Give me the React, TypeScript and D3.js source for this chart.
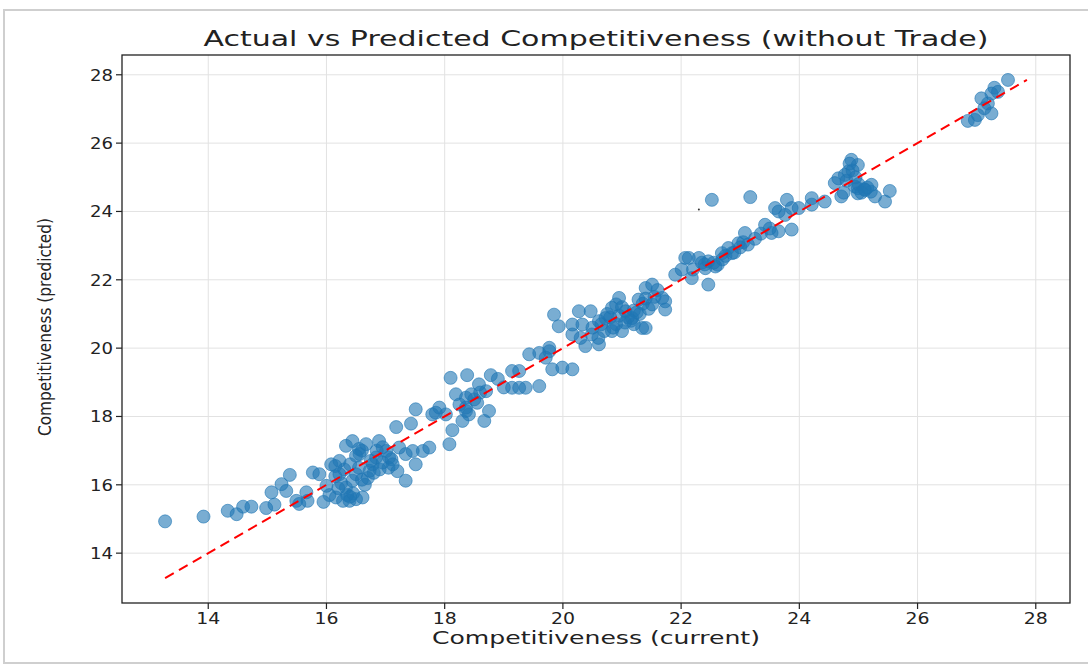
import React from 'react';
import * as d3 from 'd3';

const actual: number[] = [
  13.27, 13.92, 14.33, 14.48, 14.59, 14.73, 14.98, 15.12, 15.07, 15.24, 15.38, 15.32, 15.49, 15.66, 15.54,
  15.77, 15.88, 15.68, 16.0, 16.08, 16.22, 16.16, 16.28, 16.39, 16.5, 16.61, 16.33, 16.44, 16.5, 16.22,
  16.33, 16.44, 16.56, 16.67, 16.78, 16.73, 16.89, 16.84, 17.01, 17.12, 17.23, 17.34, 17.46, 17.63, 17.74,
  17.34, 17.18, 17.43, 18.08, 18.13, 17.51, 17.06, 19.85, 18.1, 18.38, 18.78, 19.14, 18.19, 18.58, 18.7,
  19.6, 19.77, 19.82, 19.14, 19.37, 19.6, 17.51, 17.91, 17.79, 18.02, 18.36, 18.41, 18.3, 18.67, 18.75,
  20.27, 20.47, 19.93, 20.16, 20.33, 20.61, 20.38, 20.16, 20.83, 21.0, 21.34, 20.95, 21.28, 20.83, 21.06,
  21.17, 21.51, 21.68, 21.73, 20.61, 20.72, 20.49, 22.52, 23.17, 23.79, 23.59, 23.76, 23.42, 23.53, 23.65,
  23.08, 22.97, 22.8, 22.69, 22.46, 22.3, 22.13, 22.01, 21.9, 22.46, 22.58, 22.86, 23.99, 24.21, 24.43,
  24.71, 24.99, 25.21, 25.45, 25.53, 21.4, 21.51, 24.88, 24.99, 24.83, 24.66, 24.6, 24.77, 24.94, 25.11,
  25.22, 25.28, 24.99, 24.21, 23.87, 23.65, 27.53, 27.3, 27.25, 27.08, 27.19, 27.13, 27.25, 27.02, 26.85,
  26.97, 27.36, 19.26, 18.36, 17.85, 18.36, 19.77, 19.99, 20.16, 19.71, 19.43, 21.73, 21.4, 20.9, 22.07,
  22.18, 22.41, 22.62, 23.13, 23.87, 19.26,
  16.55, 16.9, 16.95, 16.6, 16.7, 16.4, 17.05, 16.85, 16.25, 16.15, 17.2, 16.65, 16.45, 16.35, 16.2,
  16.05, 15.95, 20.5, 20.7, 20.9, 21.1, 21.2, 21.3, 21.45, 21.55, 21.6, 20.8, 21.0, 20.6, 20.3, 21.2,
  21.35, 22.55, 22.7, 22.9, 23.0, 23.25, 23.35, 23.5, 22.4, 22.2, 24.8, 24.9, 25.0, 25.15, 24.85, 25.05,
  18.5, 18.6, 18.25, 18.9, 19.0,
  16.3, 16.5, 16.75, 16.95, 17.1, 16.6, 16.4, 16.8, 16.15, 16.55, 20.65, 20.85, 21.05, 21.25, 21.15,
  20.95, 20.75, 21.4, 22.35, 22.75, 23.05, 24.95, 25.1, 24.75, 18.45, 18.55,
];

const predicted: number[] = [
  14.93, 15.07, 15.24, 15.14, 15.36, 15.36, 15.32, 15.42, 15.78, 16.02, 16.29, 15.82, 15.53, 15.78, 15.44,
  16.36, 16.31, 15.53, 15.97, 16.6, 16.7, 15.63, 15.53, 15.53, 15.58, 15.63, 15.92, 16.12, 16.31, 16.31,
  17.14, 17.28, 16.9, 17.19, 16.6, 16.41, 17.28, 16.8, 16.99, 16.6, 17.09, 16.9, 16.99, 16.99, 17.09,
  16.12, 17.69, 17.79, 17.19, 17.6, 16.6, 16.8, 20.98, 19.13, 19.21, 19.21, 19.33, 18.65, 18.94, 18.74,
  19.86, 19.91, 19.38, 18.84, 18.84, 18.89, 18.21, 18.26, 18.06, 18.06, 18.26, 18.06, 17.87, 17.87, 18.16,
  21.08, 21.08, 20.64, 20.69, 20.69, 20.11, 20.06, 20.4, 20.5, 20.5, 20.59, 21.47, 21.42, 21.18, 21.08,
  20.88, 21.28, 21.47, 21.13, 20.79, 20.88, 20.4, 24.34, 24.42, 24.34, 24.1, 23.9, 23.61, 23.37, 23.42,
  23.37, 23.07, 22.93, 22.78, 22.54, 22.64, 22.64, 22.3, 22.15, 21.86, 22.39, 22.78, 24.1, 24.39, 24.29,
  24.44, 24.68, 24.58, 24.29, 24.6, 21.76, 21.86, 25.51, 25.36, 25.17, 24.97, 24.83, 25.07, 24.73, 24.63,
  24.78, 24.44, 24.53, 24.2, 24.1, 24.0, 27.85, 27.62, 27.45, 27.31, 27.16, 27.02, 26.87, 26.82, 26.65,
  26.68, 27.5, 18.84, 18.55, 18.11, 18.16, 20.01, 19.43, 19.38, 19.72, 19.82, 21.37, 20.59, 21.28, 22.64,
  22.05, 22.34, 22.44, 23.03, 23.47, 19.33,
  16.5, 16.45, 17.1, 17.0, 16.2, 16.6, 16.5, 17.0, 16.05, 16.25, 16.4, 16.0, 15.75, 15.7, 15.9,
  15.7, 15.5, 20.6, 20.5, 20.7, 20.9, 21.1, 21.0, 21.15, 21.5, 21.7, 20.9, 21.2, 20.3, 20.3, 20.7,
  21.3, 22.5, 22.6, 22.8, 22.95, 23.2, 23.35, 23.5, 22.45, 22.3, 24.9, 25.2, 24.8, 24.7, 25.4, 24.55,
  18.5, 18.7, 18.35, 19.1, 18.85,
  16.45, 16.85, 16.7, 16.65, 16.75, 16.15, 15.65, 16.35, 16.55, 17.05, 20.7, 20.6, 20.75, 21.05, 20.8,
  20.95, 21.0, 21.45, 22.5, 22.7, 23.1, 25.0, 24.65, 24.55, 18.65, 18.4,
];

const xTicks: number[] = [14, 16, 18, 20, 22, 24, 26, 28];
const yTicks: number[] = [14, 16, 18, 20, 22, 24, 26, 28];
const speck: [number, number] = [22.3, 24.06];

const W = 1088;
const H = 666;
const margin = { top: 55, right: 18, bottom: 63, left: 122 };

const App: React.FC = () => {
  // the diagonal spans min..max over both series, like plt.plot([lo, hi], [lo, hi])
  const lo = Math.min(d3.min(actual)!, d3.min(predicted)!);
  const hi = Math.max(d3.max(actual)!, d3.max(predicted)!);
  const pad = (hi - lo) * 0.05;

  const x = d3.scaleLinear()
    .domain([lo - pad, hi + pad])
    .range([margin.left, W - margin.right]);
  const y = d3.scaleLinear()
    .domain([lo - pad, hi + pad])
    .range([H - margin.bottom, margin.top]);

  const x0 = margin.left;
  const x1 = W - margin.right;
  const y0 = H - margin.bottom;
  const y1 = margin.top;
  const font = 'DejaVu Sans, sans-serif';

  return (
    <svg width={W} height={H} style={{ position: 'absolute', left: 0, top: 0 }}>
      <rect x={0} y={0} width={W} height={H} fill="#fff" />
      <rect x={4} y={10} width={W + 10} height={653} fill="#fff" stroke="#cfcfcf" strokeWidth={2} />

      {/* grid */}
      {xTicks.map((t) => (
        <line key={'gx' + t} x1={x(t)} x2={x(t)} y1={y1} y2={y0} stroke="#e2e2e2" strokeWidth={1} />
      ))}
      {yTicks.map((t) => (
        <line key={'gy' + t} x1={x0} x2={x1} y1={y(t)} y2={y(t)} stroke="#e2e2e2" strokeWidth={1} />
      ))}

      {/* points */}
      {actual.map((a, i) => (
        <circle
          key={i}
          cx={x(a)}
          cy={y(predicted[i])}
          r={6.5}
          fill="#1f77b4"
          fillOpacity={0.6}
          stroke="#1f77b4"
          strokeOpacity={0.6}
          strokeWidth={1}
        />
      ))}
      <circle cx={x(speck[0])} cy={y(speck[1])} r={1} fill="#333" />

      {/* ideal line */}
      <line
        x1={x(lo)}
        y1={y(lo)}
        x2={x(hi)}
        y2={y(hi)}
        stroke="red"
        strokeWidth={2}
        strokeDasharray="10,6"
      />

      {/* axes box */}
      <rect x={x0} y={y1} width={x1 - x0} height={y0 - y1} fill="none" stroke="#222" strokeWidth={1.3} />

      {xTicks.map((t) => (
        <g key={'tx' + t}>
          <line x1={x(t)} x2={x(t)} y1={y0} y2={y0 + 6} stroke="#222" strokeWidth={1.2} />
          <text x={x(t)} y={y0 + 21} textAnchor="middle" fontFamily={font} fontSize={16}
            textLength={24} lengthAdjust="spacingAndGlyphs" fill="#222">{t}</text>
        </g>
      ))}
      {yTicks.map((t) => (
        <g key={'ty' + t}>
          <line x1={x0 - 6} x2={x0} y1={y(t)} y2={y(t)} stroke="#222" strokeWidth={1.2} />
          <text x={x0 - 9} y={y(t) + 6} textAnchor="end" fontFamily={font} fontSize={16}
            textLength={23} lengthAdjust="spacingAndGlyphs" fill="#222">{t}</text>
        </g>
      ))}

      <text x={596} y={46} textAnchor="middle" fontFamily={font} fontSize={21}
        textLength={785} lengthAdjust="spacingAndGlyphs" fill="#222">
        Actual vs Predicted Competitiveness (without Trade)
      </text>
      <text x={596} y={644} textAnchor="middle" fontFamily={font} fontSize={17}
        textLength={328} lengthAdjust="spacingAndGlyphs" fill="#222">
        Competitiveness (current)
      </text>
      <text transform={`translate(51, 327) rotate(-90)`} textAnchor="middle" fontFamily={font} fontSize={17}
        textLength={218} lengthAdjust="spacingAndGlyphs" fill="#222">
        Competitiveness (predicted)
      </text>
    </svg>
  );
};

export default App;
